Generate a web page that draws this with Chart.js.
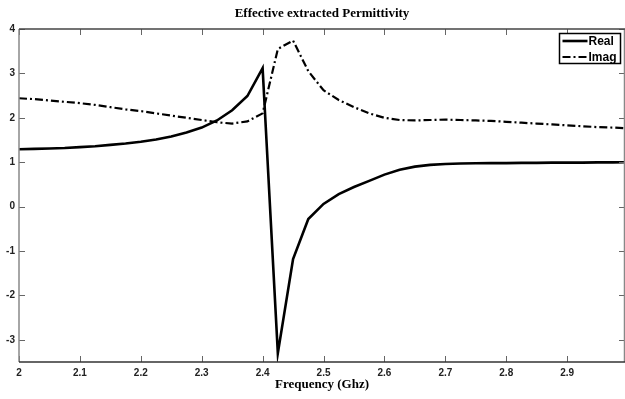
<!DOCTYPE html>
<html><head><meta charset="utf-8">
<script src="https://cdn.jsdelivr.net/npm/chart.js@4.4.0/dist/chart.umd.min.js"></script>
<style>html,body{margin:0;padding:0;background:#fff;overflow:hidden}</style>
</head><body>
<canvas id="c" width="625" height="399"></canvas>
<script>
const frequency = [2.000,2.025,2.050,2.075,2.100,2.125,2.150,2.175,2.200,2.225,2.250,2.275,2.300,2.325,2.350,2.375,2.400,2.425,2.450,2.475,2.500,2.525,2.550,2.575,2.600,2.625,2.650,2.675,2.700,2.725,2.750,2.775,2.800,2.825,2.850,2.875,2.900,2.925,2.950,2.975,3.000];
const realPart = [1.29,1.30,1.31,1.32,1.34,1.36,1.39,1.42,1.46,1.51,1.58,1.67,1.78,1.94,2.17,2.49,3.12,-3.30,-1.18,-0.28,0.06,0.28,0.44,0.58,0.72,0.83,0.90,0.94,0.96,0.97,0.975,0.98,0.98,0.985,0.985,0.99,0.99,0.99,0.995,0.995,1.00];
const imagPart = [2.44,2.42,2.39,2.36,2.33,2.29,2.24,2.19,2.15,2.10,2.05,2.00,1.95,1.90,1.87,1.92,2.10,3.55,3.74,3.05,2.62,2.40,2.24,2.10,2.00,1.95,1.94,1.95,1.96,1.95,1.94,1.93,1.91,1.89,1.87,1.85,1.83,1.81,1.79,1.78,1.76];
const xTickValues = [2,2.1,2.2,2.3,2.4,2.5,2.6,2.7,2.8,2.9];
const yTickValues = [-3,-2,-1,0,1,2,3,4];
const seriesNames = ['Real','Imag'];
const chartTitle = 'Effective extracted Permittivity';
const xAxisTitle = 'Frequency (Ghz)';

const toPts = (vals) => frequency.map((f,i)=>({x:f,y:vals[i]}));

const framePlugin = {
  id:'frame',
  afterDatasetsDraw(chart){
    const {ctx, chartArea:a, scales:{x,y}} = chart;
    ctx.save();
    ctx.lineWidth = 1;
    ctx.strokeStyle = '#666';
    const L = 6;
    x.ticks.forEach(t=>{
      const px = Math.round(x.getPixelForValue(t.value))+0.5;
      ctx.beginPath();
      ctx.moveTo(px,a.bottom); ctx.lineTo(px,a.bottom-L);
      ctx.moveTo(px,a.top); ctx.lineTo(px,a.top+L);
      ctx.stroke();
    });
    y.ticks.forEach(t=>{
      const py = Math.round(y.getPixelForValue(t.value))+0.5;
      ctx.beginPath();
      ctx.moveTo(a.left,py); ctx.lineTo(a.left+L,py);
      ctx.moveTo(a.right,py); ctx.lineTo(a.right-L,py);
      ctx.stroke();
    });
    ctx.lineWidth = 1.5;
    ctx.strokeStyle = '#888';
    ctx.beginPath(); ctx.moveTo(a.left,a.top); ctx.lineTo(a.left,a.bottom); ctx.stroke();
    ctx.beginPath(); ctx.moveTo(a.right-0.5,a.top); ctx.lineTo(a.right-0.5,a.bottom); ctx.stroke();
    ctx.strokeStyle = '#333';
    ctx.beginPath(); ctx.moveTo(a.left,a.bottom); ctx.lineTo(a.right,a.bottom); ctx.stroke();
    ctx.strokeStyle = '#444';
    ctx.beginPath(); ctx.moveTo(a.left,a.top); ctx.lineTo(a.right,a.top); ctx.stroke();
    ctx.restore();
  },
  afterDraw(chart){
    const {ctx} = chart;
    const bx = 559.5, by = 33.5, bw = 61, bh = 30;
    ctx.save();
    ctx.fillStyle = '#fff';
    ctx.fillRect(bx,by,bw,bh);
    ctx.strokeStyle = '#000';
    ctx.lineWidth = 1.5;
    ctx.strokeRect(bx,by,bw,bh);
    chart.data.datasets.forEach((ds,i)=>{
      const ly = by + 7.5 + i*16;
      ctx.strokeStyle = ds.borderColor;
      ctx.lineWidth = ds.borderWidth;
      ctx.setLineDash(ds.borderDash || []);
      ctx.beginPath(); ctx.moveTo(bx+3, ly); ctx.lineTo(bx+28, ly); ctx.stroke();
      ctx.setLineDash([]);
      ctx.fillStyle = '#000';
      ctx.font = 'bold 12px "Liberation Sans", Arial, sans-serif';
      ctx.textBaseline = 'middle';
      ctx.textAlign = 'left';
      ctx.fillText(ds.label, bx+29, ly+0.5);
    });
    ctx.restore();
  }
};

new Chart(document.getElementById('c'), {
  type:'line',
  data:{
    datasets:[
      {label:seriesNames[0], data:toPts(realPart), borderColor:'#000', borderWidth:2.6, pointRadius:0, tension:0, fill:false},
      {label:seriesNames[1], data:toPts(imagPart), borderColor:'#000', borderWidth:2.2, borderDash:[8,3,2,3], pointRadius:0, tension:0, fill:false}
    ]
  },
  options:{
    responsive:false,
    animation:false,
    devicePixelRatio:1,
    layout:{padding:0},
    plugins:{
      legend:{display:false},
      tooltip:{enabled:false},
      title:{display:true, text:chartTitle, fullSize:false, color:'#000',
        font:{family:'"Liberation Serif", "Times New Roman", serif', size:13, weight:'bold', lineHeight:1.2},
        padding:{top:6,bottom:7.4}}
    },
    scales:{
      x:{type:'linear', min:2, max:2.995,
        afterBuildTicks(s){ s.ticks = xTickValues.map(v=>({value:v})); },
        afterFit(s){ s.height = 37; },
        grid:{display:false, drawTicks:false},
        border:{display:false},
        ticks:{padding:5, color:'#222', maxRotation:0, autoSkip:false,
          font:{family:'"Liberation Sans", Arial, sans-serif', size:10, weight:'bold'},
          callback:(v)=>String(Math.round(v*10)/10)},
        title:{display:true, text:xAxisTitle, color:'#000',
          font:{family:'"Liberation Serif", "Times New Roman", serif', size:13, weight:'bold', lineHeight:1.2},
          padding:{top:0,bottom:7}}
      },
      y:{type:'linear', min:-3.5, max:4,
        afterBuildTicks(s){ s.ticks = yTickValues.map(v=>({value:v})); },
        afterFit(s){ s.width = 19; },
        grid:{display:false, drawTicks:false},
        border:{display:false},
        ticks:{padding:4, color:'#222', autoSkip:false,
          font:{family:'"Liberation Sans", Arial, sans-serif', size:10, weight:'bold'},
          callback:(v)=>String(v)}
      }
    }
  },
  plugins:[framePlugin]
});
</script>
</body></html>
